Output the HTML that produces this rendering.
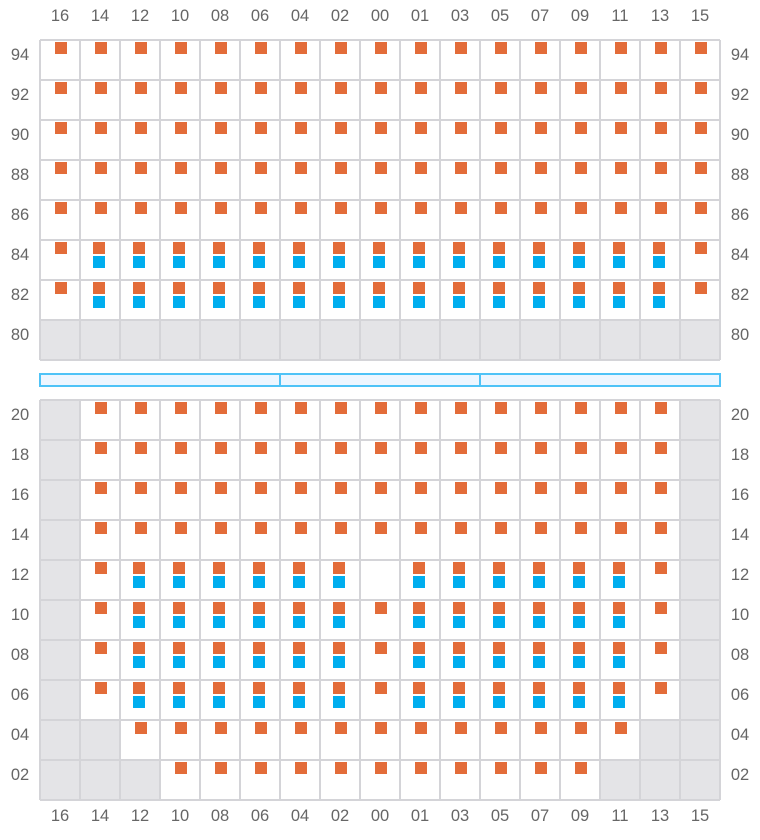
<!DOCTYPE html>
<html><head><meta charset="utf-8"><style>
html,body{margin:0;padding:0;background:#fff}
svg{display:block}
text{font-family:"Liberation Sans",sans-serif;font-size:16.5px;fill:#666}
</style></head><body>
<svg id="s" width="760" height="840" xmlns="http://www.w3.org/2000/svg"></svg>
<script>
const cols=["16","14","12","10","08","06","04","02","00","01","03","05","07","09","11","13","15"];
let h="";
const O="#e36c39",B="#00aeef",G="#e4e4e7",L="#d4d4d8";
function cell(c,y,type){
  const x=40+c*40;
  if(type==='g') h+=`<rect x="${x}" y="${y}" width="40" height="40" fill="${G}"/>`;
  else if(type==='o') h+=`<rect x="${x+15}" y="${y+2}" width="12" height="12" fill="${O}"/>`;
  else if(type==='b'){h+=`<rect x="${x+13}" y="${y+2}" width="12" height="12" fill="${O}"/><rect x="${x+13}" y="${y+16}" width="12" height="12" fill="${B}"/>`;}
}
const topRows=["94","92","90","88","86","84","82","80"];
topRows.forEach((r,i)=>{const y=40+i*40;
  for(let c=0;c<17;c++){
    let t;
    if(r==="80")t='g';
    else if(r==="84"||r==="82")t=(c===0||c===16)?'o':'b';
    else t='o';
    cell(c,y,t);
  }
  h+=`<text x="20" y="${y+20}" text-anchor="middle">${r}</text><text x="740" y="${y+20}" text-anchor="middle">${r}</text>`;
});
for(let i=0;i<=17;i++)h+=`<line x1="${40+i*40}" y1="40" x2="${40+i*40}" y2="360" stroke="${L}" stroke-width="2"/>`;
for(let i=0;i<=8;i++)h+=`<line x1="40" y1="${40+i*40}" x2="720" y2="${40+i*40}" stroke="${L}" stroke-width="2"/>`;
h+=`<rect x="40" y="374" width="680" height="12" fill="#eef6ff" stroke="#4fc3f7" stroke-width="2"/><line x1="280" y1="374" x2="280" y2="386" stroke="#4fc3f7" stroke-width="2"/><line x1="480" y1="374" x2="480" y2="386" stroke="#4fc3f7" stroke-width="2"/>`;
const botRows=["20","18","16","14","12","10","08","06","04","02"];
botRows.forEach((r,i)=>{const y=400+i*40;
  for(let c=0;c<17;c++){
    let t='e';
    if(c===0||c===16)t='g';
    else if(["20","18","16","14"].includes(r))t='o';
    else if(["12","10","08","06"].includes(r)){
      if(c===1||c===15)t='o';
      else if(c===8)t=(r==="12")?'e':'o';
      else t='b';
    } else if(r==="04"){ t=(c===1||c===15)?'g':'o'; }
    else if(r==="02"){ t=(c<=2||c>=14)?'g':'o'; }
    cell(c,y,t);
  }
  h+=`<text x="20" y="${y+20}" text-anchor="middle">${r}</text><text x="740" y="${y+20}" text-anchor="middle">${r}</text>`;
});
for(let i=0;i<=17;i++)h+=`<line x1="${40+i*40}" y1="400" x2="${40+i*40}" y2="800" stroke="${L}" stroke-width="2"/>`;
for(let i=0;i<=10;i++)h+=`<line x1="40" y1="${400+i*40}" x2="720" y2="${400+i*40}" stroke="${L}" stroke-width="2"/>`;
cols.forEach((c,i)=>{const x=60+i*40;
  h+=`<text x="${x}" y="21" text-anchor="middle">${c}</text><text x="${x}" y="821" text-anchor="middle">${c}</text>`;});
document.getElementById("s").innerHTML=h;
</script>
</body></html>
